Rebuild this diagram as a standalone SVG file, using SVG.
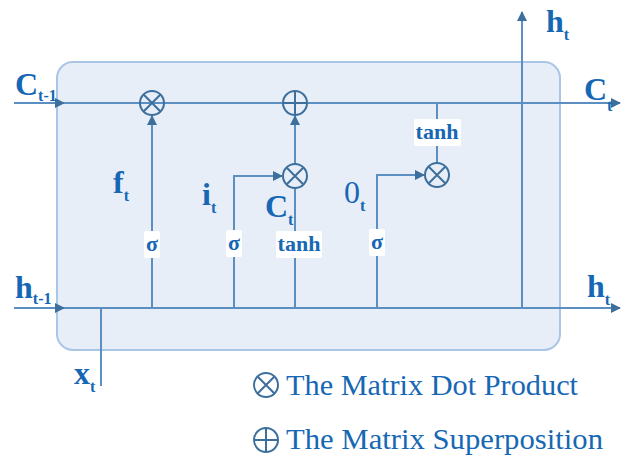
<svg xmlns="http://www.w3.org/2000/svg" width="622" height="456" viewBox="0 0 622 456">
  <style>
    .line { stroke: #5b8fc2; stroke-width: 2; fill: none; }
    .op { stroke: #3c6f9c; stroke-width: 2; fill: none; }
    .lbl { font-family: "Liberation Serif", "Times New Roman", serif; font-weight: bold; fill: #1667b4; }
    .big { font-size: 32px; }
    .sub { font-size: 16px; }
    .fn { font-family: "Liberation Serif", "Times New Roman", serif; font-weight: bold; fill: #1667b4; font-size: 22px; }
    .tag { fill: #ffffff; }
    .legend { font-family: "Liberation Serif", "Times New Roman", serif; fill: #1667b4; font-size: 29px; }
  </style>
  <defs>
    <marker id="arr" viewBox="0 0 10 10" refX="9" refY="5" markerWidth="5" markerHeight="5" orient="auto-start-reverse">
      <path d="M0,0 L10,5 L0,10 z" fill="#3c6f9c"/>
    </marker>
    <symbol id="times" viewBox="-13 -13 26 26" overflow="visible">
      <circle r="12" class="op" fill="#e8eef8"/>
      <path d="M-8.2,-8.2 L8.2,8.2 M8.2,-8.2 L-8.2,8.2" class="op"/>
    </symbol>
    <symbol id="plus" viewBox="-13 -13 26 26" overflow="visible">
      <circle r="12" class="op" fill="#e8eef8"/>
      <path d="M-12,0 L12,0 M0,-12 L0,12" class="op"/>
    </symbol>
  </defs>

  <!-- cell body -->
  <g id="cell">
    <rect x="57" y="62" width="503" height="288" rx="16" ry="16" fill="#e8eef8" stroke="#aac6e6" stroke-width="2"/>
  </g>

  <!-- connectors -->
  <g id="connectors">
    <!-- cell state line -->
    <path class="line" d="M14,103 L64,103" marker-end="url(#arr)"/>
    <path class="line" d="M64,103 L620,103" marker-end="url(#arr)"/>
    <!-- hidden state line -->
    <path class="line" d="M14,308 L64,308" marker-end="url(#arr)"/>
    <path class="line" d="M64,308 L620,308" marker-end="url(#arr)"/>
    <!-- input x_t -->
    <path class="line" d="M101,308 L101,386"/>
    <!-- forget gate -->
    <path class="line" d="M152,308 L152,116" marker-end="url(#arr)"/>
    <!-- input gate -->
    <path class="line" d="M234,308 L234,176 L282,176" marker-end="url(#arr)"/>
    <!-- candidate -->
    <path class="line" d="M295,308 L295,188"/>
    <path class="line" d="M295,164 L295,116" marker-end="url(#arr)"/>
    <!-- output gate -->
    <path class="line" d="M377,308 L377,175 L424,175" marker-end="url(#arr)"/>
    <path class="line" d="M437,103 L437,163"/>
    <!-- h_t output -->
    <path class="line" d="M522,308 L522,12" marker-end="url(#arr)"/>
  </g>

  <!-- operators -->
  <g id="mul-forget"><use href="#times" x="139" y="90" width="26" height="26"/></g>
  <g id="add-state"><use href="#plus" x="282" y="90" width="26" height="26"/></g>
  <g id="mul-input"><use href="#times" x="282" y="163" width="26" height="26"/></g>
  <g id="mul-output"><use href="#times" x="424" y="162" width="26" height="26"/></g>

  <!-- activation tags -->
  <g id="sigma-f">
    <rect class="tag" x="144" y="231" width="16" height="27" rx="2"/>
    <text class="fn" x="152" y="251" text-anchor="middle">σ</text>
  </g>
  <g id="sigma-i">
    <rect class="tag" x="226" y="230" width="16" height="27" rx="2"/>
    <text class="fn" x="234" y="250" text-anchor="middle">σ</text>
  </g>
  <g id="tanh-c">
    <rect class="tag" x="276" y="231" width="46" height="27" rx="2"/>
    <text class="fn" x="299" y="251" text-anchor="middle">tanh</text>
  </g>
  <g id="sigma-o">
    <rect class="tag" x="369" y="229" width="16" height="27" rx="2"/>
    <text class="fn" x="377" y="249" text-anchor="middle">σ</text>
  </g>
  <g id="tanh-o">
    <rect class="tag" x="414" y="119" width="47" height="27" rx="2"/>
    <text class="fn" x="437" y="139" text-anchor="middle">tanh</text>
  </g>

  <!-- labels -->
  <g id="labels">
    <text class="lbl" x="15" y="95"><tspan class="big">C</tspan><tspan class="sub" dy="6">t-1</tspan></text>
    <text class="lbl" x="584" y="100"><tspan class="big">C</tspan><tspan class="sub" dy="11">t</tspan></text>
    <text class="lbl" x="546" y="32"><tspan class="big">h</tspan><tspan class="sub" dy="8">t</tspan></text>
    <text class="lbl" x="15" y="298"><tspan class="big">h</tspan><tspan class="sub" dy="6">t-1</tspan></text>
    <text class="lbl" x="587" y="297"><tspan class="big">h</tspan><tspan class="sub" dy="8">t</tspan></text>
    <text class="lbl" x="74" y="384"><tspan class="big">x</tspan><tspan class="sub" dy="8">t</tspan></text>
    <text class="lbl" x="113" y="193"><tspan class="big">f</tspan><tspan class="sub" dy="8">t</tspan></text>
    <text class="lbl" x="202" y="205"><tspan class="big">i</tspan><tspan class="sub" dy="8">t</tspan></text>
    <text class="lbl" x="265" y="217"><tspan class="big">C</tspan><tspan class="sub" dy="8">t</tspan></text>
    <text class="lbl" x="344" y="203" style="font-weight:normal"><tspan class="big">0</tspan><tspan class="sub" dy="8" style="font-weight:bold">t</tspan></text>
  </g>

  <!-- legend -->
  <g id="legend">
    <use href="#times" x="253" y="372" width="26" height="26"/>
    <text class="legend" x="286" y="395" textLength="292" lengthAdjust="spacingAndGlyphs">The Matrix Dot Product</text>
    <use href="#plus" x="253" y="427" width="26" height="26"/>
    <text class="legend" x="286" y="449" textLength="317" lengthAdjust="spacingAndGlyphs">The Matrix Superposition</text>
  </g>
</svg>
